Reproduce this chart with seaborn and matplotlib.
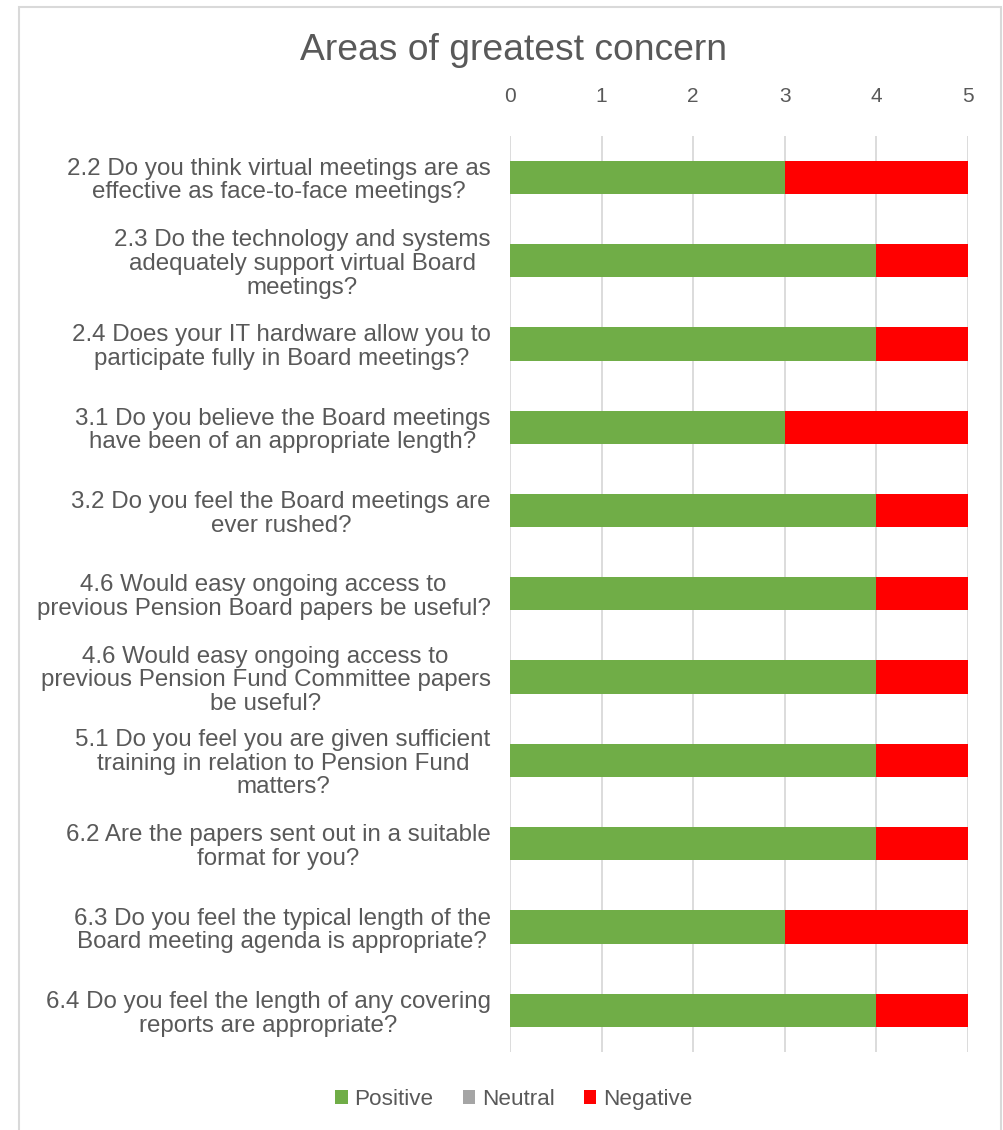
import matplotlib
matplotlib.use("Agg")
import matplotlib.pyplot as plt
from matplotlib.patches import Rectangle, Patch
import seaborn as sns
import pandas as pd

# Survey questions and response counts
questions = [
    "2.2 Do you think virtual meetings are as\neffective as face-to-face meetings?",
    "2.3 Do the technology and systems\nadequately support virtual Board\nmeetings?",
    "2.4 Does your IT hardware allow you to\nparticipate fully in Board meetings?",
    "3.1 Do you believe the Board meetings\nhave been of an appropriate length?",
    "3.2 Do you feel the Board meetings are\never rushed?",
    "4.6 Would easy ongoing access to\nprevious Pension Board papers be useful?",
    "4.6 Would easy ongoing access to\nprevious Pension Fund Committee papers\nbe useful?",
    "5.1 Do you feel you are given sufficient\ntraining in relation to Pension Fund\nmatters?",
    "6.2 Are the papers sent out in a suitable\nformat for you?",
    "6.3 Do you feel the typical length of the\nBoard meeting agenda is appropriate?",
    "6.4 Do you feel the length of any covering\nreports are appropriate?",
]
positive = [3, 4, 4, 3, 4, 4, 4, 4, 4, 3, 4]
neutral = [0, 0, 0, 0, 0, 0, 0, 0, 0, 0, 0]
negative = [2, 1, 1, 2, 1, 1, 1, 1, 1, 2, 1]
x_ticks = [0, 1, 2, 3, 4, 5]

GREEN = "#70AD47"
GREY = "#A5A5A5"
RED = "#FF0000"
TEXT = "#595959"
GRID = "#D9D9D9"

df = pd.DataFrame({
    "question": questions,
    "Positive": positive,
    "Neutral": neutral,
    "Negative": negative,
})
df["pos_neu"] = df["Positive"] + df["Neutral"]
df["total"] = df["pos_neu"] + df["Negative"]

plt.rcParams["font.family"] = ["Liberation Sans", "DejaVu Sans"]

fig = plt.figure(figsize=(10.04, 11.3), dpi=100)
ax = fig.add_axes([0.508, 0.069, 0.456, 0.811])

# Stacked bars: draw cumulative totals back to front
sns.barplot(data=df, y="question", x="total", color=RED, width=0.4,
            saturation=1, ax=ax, zorder=3)
sns.barplot(data=df, y="question", x="pos_neu", color=GREY, width=0.4,
            saturation=1, ax=ax, zorder=3)
sns.barplot(data=df, y="question", x="Positive", color=GREEN, width=0.4,
            saturation=1, ax=ax, zorder=3)
for p in ax.patches:
    p.set_linewidth(0)

ax.set_xlim(0, 5)
ax.set_ylim(len(questions) - 0.5, -0.5)
ax.set_xticks(x_ticks)
ax.xaxis.tick_top()
ax.tick_params(axis="x", length=0, pad=21, labelsize=15, labelcolor=TEXT)
ax.tick_params(axis="y", length=0, pad=14, labelsize=17.4, labelcolor=TEXT)
for lbl in ax.get_yticklabels():
    lbl.set_multialignment("center")
    lbl.set_linespacing(1.1)
ax.set_xlabel("")
ax.set_ylabel("")
ax.grid(axis="x", color=GRID, linewidth=1.3, zorder=0)
ax.set_axisbelow(True)
for s in ax.spines.values():
    s.set_visible(False)

fig.text(0.511, 0.955, "Areas of greatest concern", ha="center", va="center",
         fontsize=26.8, color=TEXT)

handles = [Patch(facecolor=GREEN, label="Positive"),
           Patch(facecolor=GREY, label="Neutral"),
           Patch(facecolor=RED, label="Negative")]
fig.legend(handles=handles, loc="center", bbox_to_anchor=(0.512, 0.027),
           ncol=3, frameon=False, fontsize=16.2, labelcolor=TEXT,
           handlelength=0.55, handleheight=0.55, handletextpad=0.3,
           columnspacing=1.3)

# Chart-area frame
fig.patches.append(Rectangle((19 / 1004, -0.01), (1001 - 19) / 1004, 1.01 - 7 / 1130,
                             transform=fig.transFigure, fill=False,
                             edgecolor=GRID, linewidth=1.5))

fig.savefig("out.png", dpi=100)
